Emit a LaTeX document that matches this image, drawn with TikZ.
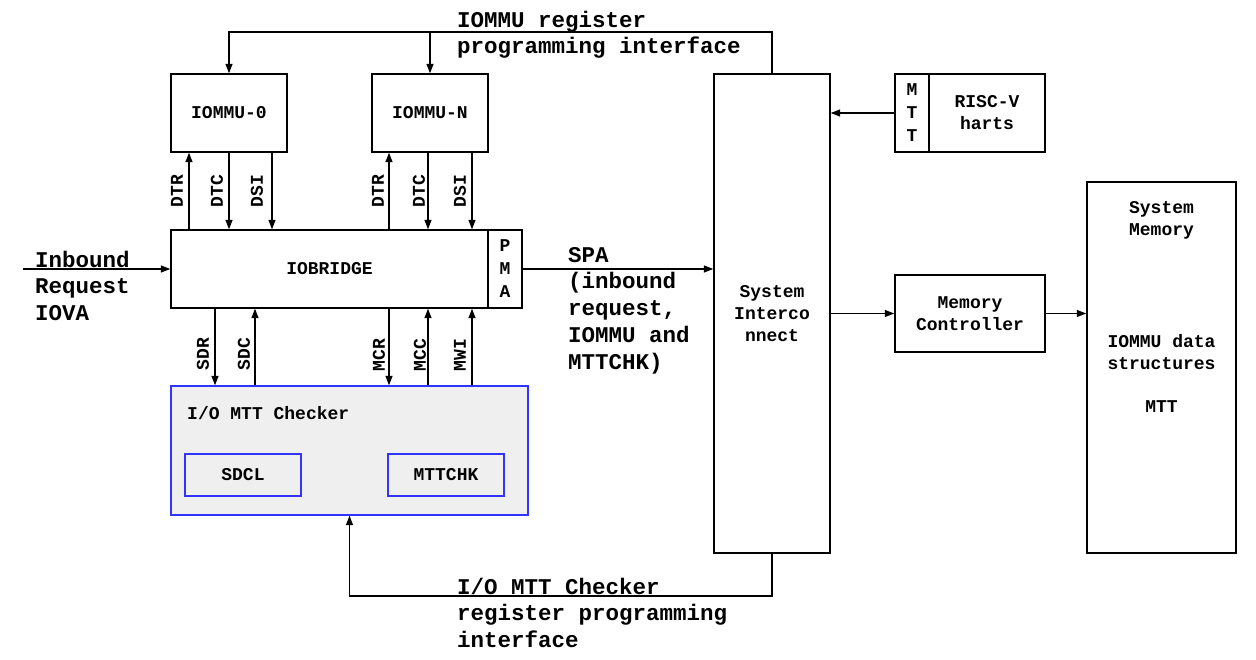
\documentclass[tikz,border=0pt]{standalone}
\usepackage{fontspec}
\setmainfont{Liberation Mono}
\usetikzlibrary{arrows.meta}
\definecolor{chkblue}{RGB}{51,51,255}
\definecolor{chkfill}{RGB}{239,239,239}
\begin{document}
\begin{tikzpicture}[x=1pt,y=-1pt,
  box/.style={draw, line width=1.4pt, inner sep=0pt, align=center,
    font=\bfseries\fontsize{18}{22}\selectfont},
  bluebox/.style={box, draw=chkblue},
  sm/.style={inner sep=0pt, font=\bfseries\fontsize{18}{22}\selectfont},
  lg/.style={inner sep=0pt, align=left, font=\bfseries\fontsize{22.5}{26.8}\selectfont},
  ln/.style={line width=1.3pt},
  arr/.style={line width=1.3pt, -{Triangle[length=9.5pt,width=7pt]}}]
\useasboundingbox (0,0) rectangle (1256,659);

% boxes
\node[box, minimum width=116pt, minimum height=78pt] (iommu0) at (229,113) {IOMMU-0};
\node[box, minimum width=116pt, minimum height=78pt] (iommuN) at (430,113) {IOMMU-N};
\node[box, minimum width=317pt, minimum height=78pt] (iobridge) at (329.5,269) {IOBRIDGE};
\node[box, minimum width=34pt, minimum height=78pt, font=\bfseries\fontsize{18}{23}\selectfont] (pma) at (505,269) {P\\M\\A};
\node[bluebox, fill=chkfill, minimum width=357pt, minimum height=129pt] (checker) at (349.5,450.5) {};
\node[sm, anchor=base west] (chktitle) at (187,419) {I/O MTT Checker};
\node[bluebox, line width=1.2pt, minimum width=116pt, minimum height=42pt] (sdcl) at (243,475) {SDCL};
\node[bluebox, line width=1.2pt, minimum width=116pt, minimum height=42pt] (mttchk) at (446,475) {MTTCHK};
\node[box, minimum width=116pt, minimum height=479pt] (sysic) at (772,313.5) {System\\Interco\\nnect};
\node[box, minimum width=34pt, minimum height=78pt, font=\bfseries\fontsize{18}{23}\selectfont] (mtt) at (912,113) {M\\T\\T};
\node[box, minimum width=116pt, minimum height=78pt] (risc) at (987,113) {RISC-V\\harts};
\node[box, minimum width=150pt, minimum height=77pt] (memctrl) at (970,313.5) {Memory\\Controller};
\node[box, minimum width=149pt, minimum height=371pt] (sysmem) at (1161.5,367.5) {};
\node[sm, align=center] (smtitle) at (1161.5,220) {System\\Memory};
\node[sm, align=center] (smdata) at (1161.5,352) {IOMMU data\\structures};
\node[sm] (smmtt) at (1161.5,407) {MTT};

% top programming interface
\coordinate (topy) at (0,32);
\draw[arr] (sysic.north) -- (sysic.north |- topy) -| (iommu0.north);
\draw[arr] (iommuN.north |- topy) -- (iommuN.north);
\node[lg, anchor=base west] (toplbl) at (457,53.8) {IOMMU register\\programming interface};

% IOMMU <-> IOBRIDGE
\draw[arr] (iobridge.north -| 189,0) -- (iommu0.south -| 189,0);
\draw[arr] (iommu0.south -| 229,0) -- (iobridge.north -| 229,0);
\draw[arr] (iommu0.south -| 272,0) -- (iobridge.north -| 272,0);
\draw[arr] (iobridge.north -| 389,0) -- (iommuN.south -| 389,0);
\draw[arr] (iommuN.south -| 428,0) -- (iobridge.north -| 428,0);
\draw[arr] (iommuN.south -| 472,0) -- (iobridge.north -| 472,0);
\node[sm, rotate=90] (l1) at (177,191) {DTR};
\node[sm, rotate=90] (l2) at (217,191) {DTC};
\node[sm, rotate=90] (l3) at (257,191) {DSI};
\node[sm, rotate=90] (l4) at (378,191) {DTR};
\node[sm, rotate=90] (l5) at (419,191) {DTC};
\node[sm, rotate=90] (l6) at (460,191) {DSI};

% IOBRIDGE <-> checker
\draw[arr] (iobridge.south -| 215,0) -- (checker.north -| 215,0);
\draw[arr] (checker.north -| 255,0) -- (iobridge.south -| 255,0);
\draw[arr] (iobridge.south -| 389,0) -- (checker.north -| 389,0);
\draw[arr] (checker.north -| 428,0) -- (iobridge.south -| 428,0);
\draw[arr] (checker.north -| 472,0) -- (iobridge.south -| 472,0);
\node[sm, rotate=90] (l7) at (203,354) {SDR};
\node[sm, rotate=90] (l8) at (244,354) {SDC};
\node[sm, rotate=90] (l9) at (379,355) {MCR};
\node[sm, rotate=90] (l10) at (420,355) {MCC};
\node[sm, rotate=90] (l11) at (460,355) {MWI};

% inbound
\coordinate (inb) at (23,269);
\draw[arr] (inb) -- (iobridge.west);
\node[lg, anchor=base west] (inblbl) at (35,320.6) {Inbound\\Request\\IOVA};

% SPA
\draw[arr] (pma.east) -- (sysic.west |- pma.east);
\node[lg, anchor=base west] (spalbl) at (568,369.2) {SPA\\(inbound\\request,\\IOMMU and\\MTTCHK)};

% harts, memory
\draw[arr] (mtt.west) -- (sysic.east |- mtt.west);
\draw[arr] (sysic.east |- memctrl.west) -- (memctrl.west);
\draw[arr] (memctrl.east) -- (sysmem.west |- memctrl.east);

% bottom programming interface
\coordinate (boty) at (0,596);
\draw[arr] (sysic.south) -- (sysic.south |- boty) -| (checker.south);
\node[lg, anchor=base west] (botlbl) at (457,647.6) {I/O MTT Checker\\register programming\\interface};
\end{tikzpicture}
\end{document}
